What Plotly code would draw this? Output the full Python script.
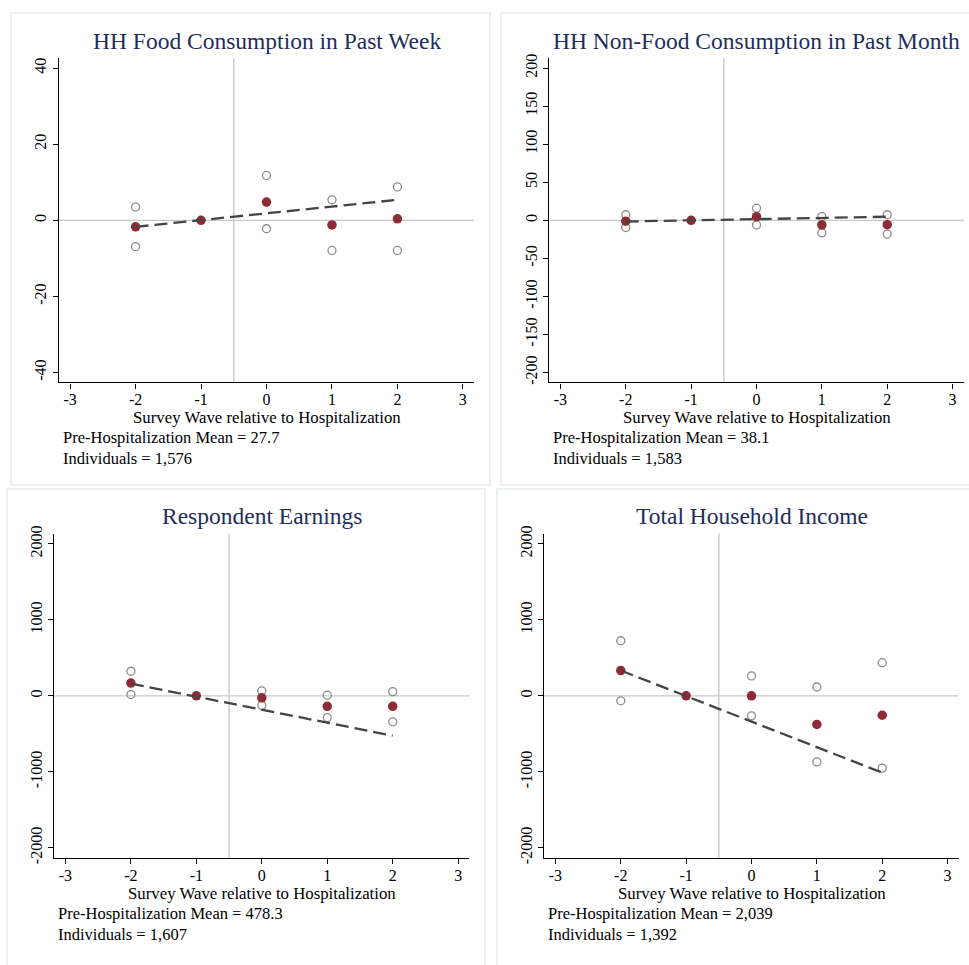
import plotly.graph_objects as go

W, H = 969, 965

waves = [-2, -1, 0, 1, 2]
fit_x = [-2, 2]

titles = ["HH Food Consumption in Past Week", "HH Non-Food Consumption in Past Month",
          "Respondent Earnings", "Total Household Income"]
pre_means = ["27.7", "38.1", "478.3", "2,039"]
individuals = ["1,576", "1,583", "1,607", "1,392"]

food_mean = [-1.7, 0, 4.8, -1.2, 0.4]
food_hi = [3.5, None, 11.8, 5.4, 8.8]
food_lo = [-6.9, None, -2.2, -7.9, -7.9]
food_fit = [-1.7, 5.4]

nonfood_mean = [-1.0, 0, 4.8, -6.0, -5.6]
nonfood_hi = [7.4, None, 16.0, 5.0, 7.4]
nonfood_lo = [-9.4, None, -6.0, -16.4, -18.0]
nonfood_fit = [-1.5, 4.8]

earn_mean = [168, 0, -26, -138, -138]
earn_hi = [324, None, 65, 9, 56]
earn_lo = [17, None, -125, -285, -341]
earn_fit = [160, -523]

inc_mean = [333, 0, 0, -376, -255]
inc_hi = [725, None, 263, 117, 436]
inc_lo = [-65, None, -263, -868, -950]
inc_fit = [333, -1010]

x_ticks = [-3, -2, -1, 0, 1, 2, 3]
x_tick_labels = ["-3", "-2", "-1", "0", "1", "2", "3"]
y_ticks = [[-40, -20, 0, 20, 40],
           [-200, -150, -100, -50, 0, 50, 100, 150, 200],
           [-2000, -1000, 0, 1000, 2000],
           [-2000, -1000, 0, 1000, 2000]]
y_tick_labels = [["-40", "-20", "0", "20", "40"],
                 ["-200", "-150", "-100", "-50", "0", "50", "100", "150", "200"],
                 ["-2000", "-1000", "0", "1000", "2000"],
                 ["-2000", "-1000", "0", "1000", "2000"]]
y_ranges = [[-42.6, 42.6], [-213, 213], [-2135, 2135], [-2135, 2135]]
x_range = [-3.17, 3.17]
event_line = -0.5

means = [food_mean, nonfood_mean, earn_mean, inc_mean]
his = [food_hi, nonfood_hi, earn_hi, inc_hi]
los = [food_lo, nonfood_lo, earn_lo, inc_lo]
fits = [food_fit, nonfood_fit, earn_fit, inc_fit]

# plot areas in pixels: (left, right, top, bottom)
areas = [(59, 474, 51, 380), (549.3, 963.7, 51, 380),
         (54.3, 469.3, 533.3, 862.7), (544.3, 958.7, 533.3, 862.7)]
# panel boxes in pixels
boxes = [(11, 490, 5, 484), (501, 975, 5, 484), (7, 485, 488, 975), (497, 975, 488, 975)]

SERIF = "Liberation Serif, Times New Roman, serif"
MAROON = "#8e2c35"
HOLLOW = "#8c8c8c"
NAVY = "#1f2d5c"
REF = "#c9c9c9"

fig = go.Figure()
shapes = []
annotations = []

def px(x):
    return x / W

def py(y):
    return 1 - y / H

for i in range(4):
    n = i + 1
    xa = "x" if n == 1 else f"x{n}"
    ya = "y" if n == 1 else f"y{n}"
    l, r, t, b = areas[i]
    bl, br, bt, bb = boxes[i]
    shapes.append(dict(type="rect", xref="paper", yref="paper",
                       x0=px(bl), x1=px(br), y0=py(bb), y1=py(bt),
                       line=dict(color="#e3eaee", width=1.3), fillcolor="rgba(0,0,0,0)", layer="below"))
    shapes.append(dict(type="line", xref=xa, yref=f"{ya} domain", x0=event_line, x1=event_line,
                       y0=0, y1=1, line=dict(color=REF, width=1.4), layer="below"))
    shapes.append(dict(type="line", xref=f"{xa} domain", yref=ya, x0=0, x1=1, y0=0, y1=0,
                       line=dict(color=REF, width=1.4), layer="below"))

    hx = [w for w, v in zip(waves, his[i]) if v is not None]
    hv = [v for v in his[i] if v is not None]
    lv = [v for v in los[i] if v is not None]
    fig.add_trace(go.Scatter(x=hx + hx, y=hv + lv, mode="markers", xaxis=xa, yaxis=ya,
                             marker=dict(symbol="circle-open", size=8, color=HOLLOW,
                                         line=dict(width=1.3, color=HOLLOW)),
                             showlegend=False, hoverinfo="skip"))
    fig.add_trace(go.Scatter(x=waves, y=means[i], mode="markers", xaxis=xa, yaxis=ya,
                             marker=dict(symbol="circle", size=9.5, color=MAROON),
                             showlegend=False, hoverinfo="skip"))
    fig.add_trace(go.Scatter(x=fit_x, y=fits[i], mode="lines", xaxis=xa, yaxis=ya,
                             line=dict(color="#444444", width=2.3, dash="13px,6px"),
                             showlegend=False, hoverinfo="skip"))

    axis_common = dict(showgrid=False, zeroline=False, showline=True, linecolor="black",
                       linewidth=1.3, ticks="outside", ticklen=5, tickwidth=1.2, tickcolor="black",
                       tickfont=dict(family=SERIF, size=16, color="black"), mirror=False)
    fig.update_layout(**{
        ("xaxis" if n == 1 else f"xaxis{n}"): dict(
            domain=[px(l), px(r)], range=x_range, tickvals=x_ticks, ticktext=x_tick_labels,
            anchor=ya, ticklabelstandoff=-3, **axis_common),
        ("yaxis" if n == 1 else f"yaxis{n}"): dict(
            domain=[py(b), py(t)], range=y_ranges[i], tickvals=y_ticks[i], ticktext=y_tick_labels[i],
            anchor=xa, tickangle=-90, **axis_common),
    })
    cx = (l + r) / 2
    annotations.append(dict(text=titles[i], xref="paper", yref="paper", x=px(cx), y=py(t - 18),
                            xanchor="center", yanchor="middle", showarrow=False,
                            font=dict(family=SERIF, size=23.5, color=NAVY)))
    annotations.append(dict(text="Survey Wave relative to Hospitalization", xref="paper", yref="paper",
                            x=px(cx), y=py(b + 36), xanchor="center", yanchor="middle",
                            showarrow=False, font=dict(family=SERIF, size=16.8, color="black")))
    annotations.append(dict(text=f"Pre-Hospitalization Mean = {pre_means[i]}<br>Individuals = {individuals[i]}",
                            xref="paper", yref="paper", x=px(l + 2), y=py(b + 66.3), xanchor="left",
                            yanchor="middle", align="left", showarrow=False,
                            font=dict(family=SERIF, size=16.5, color="black")))

fig.update_layout(width=W, height=H, margin=dict(l=0, r=0, t=0, b=0),
                  paper_bgcolor="white", plot_bgcolor="white",
                  shapes=shapes, annotations=annotations)

fig.write_html("out.html", config={"displayModeBar": False},
               post_script="document.body.style.margin='0';document.body.style.padding='0';document.documentElement.style.overflow='hidden';")
